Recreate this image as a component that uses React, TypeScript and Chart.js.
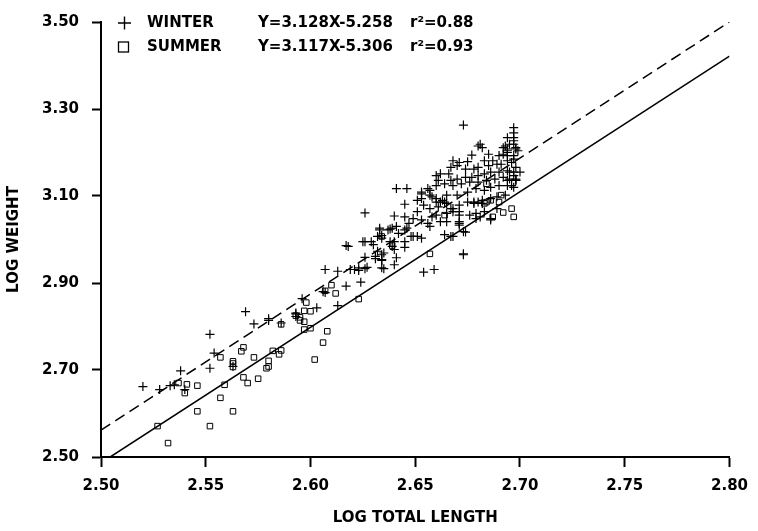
import React, { useEffect, useRef } from "react";
import { Chart, registerables } from "chart.js";

Chart.register(...registerables);

// ---- data ----
const xTickValues = [2.5, 2.55, 2.6, 2.65, 2.7, 2.75, 2.8];
const yTickValues = [2.5, 2.7, 2.9, 3.1, 3.3, 3.5];

const legendNames = ["WINTER", "SUMMER"];
const legendEquations = ["Y=3.128X-5.258", "Y=3.117X-5.306"];
const legendR2 = ["r\u00B2=0.88", "r\u00B2=0.93"];

// regression line end points (from the printed equations)
const winterLine: [number, number][] = [[2.5, 2.562], [2.8, 3.5]];
const summerLine: [number, number][] = [[2.5044, 2.5], [2.8, 3.4216]];

const winterPoints: [number, number][] = [
  [2.520, 2.662], [2.528, 2.655], [2.533, 2.664], [2.535, 2.666], [2.538, 2.698], [2.540, 2.655],
  [2.552, 2.782], [2.554, 2.739], [2.552, 2.704], [2.563, 2.708], [2.573, 2.806], [2.580, 2.814],
  [2.569, 2.834], [2.580, 2.818], [2.586, 2.808], [2.596, 2.864], [2.593, 2.831], [2.603, 2.843],
  [2.607, 2.931], [2.606, 2.880], [2.607, 2.878], [2.613, 2.848],
  [2.613, 2.927], [2.619, 2.931], [2.623, 2.929], [2.627, 2.936], [2.624, 2.902], [2.617, 2.893],
  [2.593, 2.829], [2.593, 2.823], [2.617, 2.986], [2.625, 2.995], [2.630, 2.988], [2.632, 3.007],
  [2.634, 3.009], [2.633, 3.026], [2.638, 3.024], [2.641, 3.030], [2.640, 2.995], [2.639, 2.984],
  [2.645, 2.995], [2.645, 2.982], [2.641, 2.958], [2.640, 2.942], [2.634, 2.965], [2.631, 2.956],
  [2.634, 2.952], [2.626, 2.959], [2.634, 2.935], [2.635, 2.933], [2.654, 2.925], [2.659, 2.931],
  [2.673, 2.967], [2.674, 3.017], [2.664, 3.011], [2.668, 3.007], [2.646, 3.026], [2.649, 3.007],
  [2.653, 3.003], [2.657, 3.030], [2.662, 3.041], [2.671, 3.037], [2.671, 3.033],
  [2.626, 3.061], [2.641, 3.117], [2.646, 3.117], [2.645, 3.081], [2.651, 3.090], [2.653, 3.105],
  [2.656, 3.117], [2.654, 3.079], [2.657, 3.102], [2.660, 3.094], [2.660, 3.147], [2.640, 3.054],
  [2.645, 3.052], [2.649, 3.048], [2.647, 3.037], [2.651, 3.064], [2.653, 3.045], [2.656, 3.037],
  [2.658, 3.052], [2.633, 3.022], [2.637, 3.022], [2.639, 3.026], [2.634, 3.003], [2.638, 2.995],
  [2.642, 3.014], [2.645, 3.022], [2.648, 3.007], [2.651, 3.007], [2.626, 2.995], [2.629, 2.995],
  [2.618, 2.984], [2.632, 2.973], [2.635, 2.969], [2.640, 2.977], [2.631, 2.961], [2.634, 2.954],
  [2.621, 2.931], [2.623, 2.935], [2.626, 2.933],
  [2.673, 3.263], [2.681, 3.219], [2.682, 3.211],
  [2.697, 3.257], [2.697, 3.245], [2.697, 3.234], [2.697, 3.227], [2.694, 3.234], [2.695, 3.219],
  [2.698, 3.211], [2.692, 3.211], [2.677, 3.194],
  [2.685, 3.196], [2.690, 3.193], [2.692, 3.196], [2.694, 3.200],
  [2.683, 3.181], [2.687, 3.181], [2.685, 3.170], [2.689, 3.173], [2.691, 3.173], [2.696, 3.177], [2.697, 3.185],
  [2.668, 3.181], [2.671, 3.177], [2.675, 3.179],
  [2.667, 3.166], [2.670, 3.170], [2.674, 3.162], [2.678, 3.162], [2.680, 3.166],
  [2.662, 3.151], [2.666, 3.151], [2.661, 3.136], [2.667, 3.136], [2.670, 3.139], [2.674, 3.143],
  [2.677, 3.143], [2.680, 3.147], [2.683, 3.151], [2.686, 3.155], [2.690, 3.155], [2.694, 3.158],
  [2.697, 3.155], [2.700, 3.155],
  [2.653, 3.109], [2.657, 3.113], [2.660, 3.124], [2.664, 3.128], [2.668, 3.124], [2.672, 3.128],
  [2.676, 3.132], [2.680, 3.132], [2.684, 3.136], [2.688, 3.139], [2.692, 3.143], [2.695, 3.139], [2.698, 3.136],
  [2.653, 3.094], [2.658, 3.098], [2.662, 3.086], [2.665, 3.102], [2.670, 3.102], [2.675, 3.109],
  [2.679, 3.117], [2.683, 3.113], [2.686, 3.120], [2.690, 3.124], [2.694, 3.124], [2.697, 3.120],
  [2.657, 3.071], [2.661, 3.075], [2.664, 3.086], [2.667, 3.071], [2.671, 3.079], [2.675, 3.086],
  [2.678, 3.086], [2.682, 3.090], [2.686, 3.094], [2.689, 3.098], [2.693, 3.102],
  [2.660, 3.056], [2.665, 3.060], [2.668, 3.064], [2.671, 3.056], [2.676, 3.056], [2.679, 3.060],
  [2.683, 3.064], [2.689, 3.071],
  [2.673, 2.965], [2.667, 3.007], [2.673, 3.018], [2.679, 3.048], [2.681, 3.052], [2.686, 3.048],
  [2.686, 3.045], [2.678, 3.083], [2.680, 3.086], [2.682, 3.083], [2.665, 3.041], [2.671, 3.064],
  [2.671, 3.041], [2.660, 3.086], [2.663, 3.090], [2.665, 3.083], [2.668, 3.071],
  [2.697, 3.147], [2.698, 3.139], [2.696, 3.124], [2.693, 3.215], [2.694, 3.204], [2.694, 3.193],
  [2.697, 3.219], [2.698, 3.208], [2.680, 3.215],
  [2.699, 3.204], [2.694, 3.208], [2.697, 3.193], [2.694, 3.181], [2.698, 3.166], [2.695, 3.155],
  [2.698, 3.136], [2.694, 3.136],
];

const summerPoints: [number, number][] = [
  [2.586, 2.805], [2.557, 2.729], [2.568, 2.752], [2.567, 2.743], [2.563, 2.720], [2.563, 2.715],
  [2.563, 2.707], [2.573, 2.729], [2.582, 2.744], [2.586, 2.745], [2.585, 2.736], [2.580, 2.721],
  [2.579, 2.704], [2.580, 2.708], [2.541, 2.667], [2.537, 2.670], [2.540, 2.647], [2.546, 2.664],
  [2.559, 2.666], [2.568, 2.683], [2.570, 2.670], [2.575, 2.680], [2.557, 2.636], [2.546, 2.605],
  [2.563, 2.605], [2.552, 2.571], [2.527, 2.571], [2.532, 2.532],
  [2.598, 2.855], [2.597, 2.836], [2.600, 2.835], [2.595, 2.814], [2.597, 2.811], [2.593, 2.825],
  [2.595, 2.821], [2.600, 2.796], [2.597, 2.793], [2.608, 2.789], [2.606, 2.763], [2.602, 2.724],
  [2.610, 2.895], [2.607, 2.882], [2.612, 2.876], [2.623, 2.863], [2.657, 2.967], [2.634, 3.007],
  [2.639, 2.986], [2.664, 3.056],
  [2.684, 3.128], [2.686, 3.090], [2.691, 3.102], [2.683, 3.083], [2.687, 3.052], [2.692, 3.062],
  [2.696, 3.071], [2.697, 3.052], [2.690, 3.086], [2.684, 3.086],
];

const toXY = (arr: [number, number][]) => arr.map(([x, y]) => ({ x, y }));

const FONT = '"DejaVu Sans", "Liberation Sans", sans-serif';

const equationLegend = {
  id: "equationLegend",
  afterDraw(chart: any) {
    const ctx = chart.ctx as CanvasRenderingContext2D;
    ctx.save();
    ctx.fillStyle = "#000";
    ctx.strokeStyle = "#000";
    ctx.font = `bold 15px ${FONT}`;
    ctx.textBaseline = "middle";
    ctx.textAlign = "left";
    const rowsY = [23, 47];
    legendNames.forEach((name, i) => {
      const y = rowsY[i];
      if (i === 0) {
        ctx.lineWidth = 1.4;
        ctx.beginPath();
        ctx.moveTo(118, y);
        ctx.lineTo(131, y);
        ctx.moveTo(124.5, y - 6.5);
        ctx.lineTo(124.5, y + 6.5);
        ctx.stroke();
      } else {
        ctx.lineWidth = 1.3;
        ctx.strokeRect(118.5, y - 5, 10, 10);
      }
      ctx.fillText(name, 147, y);
      ctx.fillText(legendEquations[i], 258, y);
      ctx.fillText(legendR2[i], 410, y);
    });
    ctx.restore();
  },
};

export default function App() {
  const canvasRef = useRef<HTMLCanvasElement | null>(null);

  useEffect(() => {
    if (!canvasRef.current) return;
    Chart.defaults.font.family = FONT;
    Chart.defaults.color = "#000";
    const tickFont = { size: 15, weight: "bold" as const, family: FONT };
    const chart = new Chart(canvasRef.current, {
      type: "scatter",
      data: {
        datasets: [
          {
            label: "WINTER line",
            type: "line",
            data: toXY(winterLine),
            borderColor: "#000",
            borderWidth: 1.5,
            borderDash: [11, 6],
            pointRadius: 0,
            showLine: true,
            fill: false,
          } as any,
          {
            label: "SUMMER line",
            type: "line",
            data: toXY(summerLine),
            borderColor: "#000",
            borderWidth: 1.5,
            pointRadius: 0,
            showLine: true,
            fill: false,
          } as any,
          {
            label: "WINTER",
            data: toXY(winterPoints),
            pointStyle: "cross",
            pointRadius: 4.5,
            borderColor: "#000",
            borderWidth: 1.2,
            backgroundColor: "rgba(0,0,0,0)",
          },
          {
            label: "SUMMER",
            data: toXY(summerPoints),
            pointStyle: "rect",
            pointRadius: 3.9,
            borderColor: "#000",
            borderWidth: 1,
            backgroundColor: "rgba(0,0,0,0)",
          },
        ],
      },
      options: {
        responsive: false,
        animation: false,
        layout: { padding: { left: 0, top: 18, right: 23, bottom: 0 } },
        plugins: { legend: { display: false }, tooltip: { enabled: false } },
        scales: {
          x: {
            type: "linear",
            min: 2.5,
            max: 2.8,
            afterBuildTicks: (s: any) => {
              s.ticks = xTickValues.map((v) => ({ value: v }));
            },
            afterFit: (s: any) => {
              s.height = 74;
            },
            ticks: {
              callback: (v: any) => Number(v).toFixed(2),
              font: tickFont,
              color: "#000",
              padding: 10,
              maxRotation: 0,
              autoSkip: false,
            },
            grid: {
              display: true,
              drawOnChartArea: false,
              drawTicks: true,
              tickLength: 10,
              tickWidth: 2,
              tickColor: "#000",
            },
            border: { display: true, color: "#000", width: 2 },
            title: {
              display: true,
              text: "LOG TOTAL LENGTH",
              font: { size: 15, weight: "bold", family: FONT },
              color: "#000",
              padding: { top: 0, bottom: 4 },
            },
          },
          y: {
            type: "linear",
            min: 2.5,
            max: 3.5,
            afterBuildTicks: (s: any) => {
              s.ticks = yTickValues.map((v) => ({ value: v }));
            },
            afterFit: (s: any) => {
              s.width = 101;
            },
            ticks: {
              callback: (v: any) => Number(v).toFixed(2),
              font: tickFont,
              color: "#000",
              padding: 13,
              autoSkip: false,
            },
            grid: {
              display: true,
              drawOnChartArea: false,
              drawTicks: true,
              tickLength: 9,
              tickWidth: 2,
              tickColor: "#000",
            },
            border: { display: true, color: "#000", width: 2 },
            title: {
              display: true,
              text: "LOG WEIGHT",
              font: { size: 15, weight: "bold", family: FONT },
              color: "#000",
              padding: { top: 5, bottom: 0 },
            },
          },
        },
      },
      plugins: [equationLegend],
    });
    return () => chart.destroy();
  }, []);

  return (
    <div style={{ position: "absolute", left: 0, top: 0, width: 758, height: 531, background: "#fff" }}>
      <canvas ref={canvasRef} width={758} height={531} style={{ display: "block" }} />
    </div>
  );
}
